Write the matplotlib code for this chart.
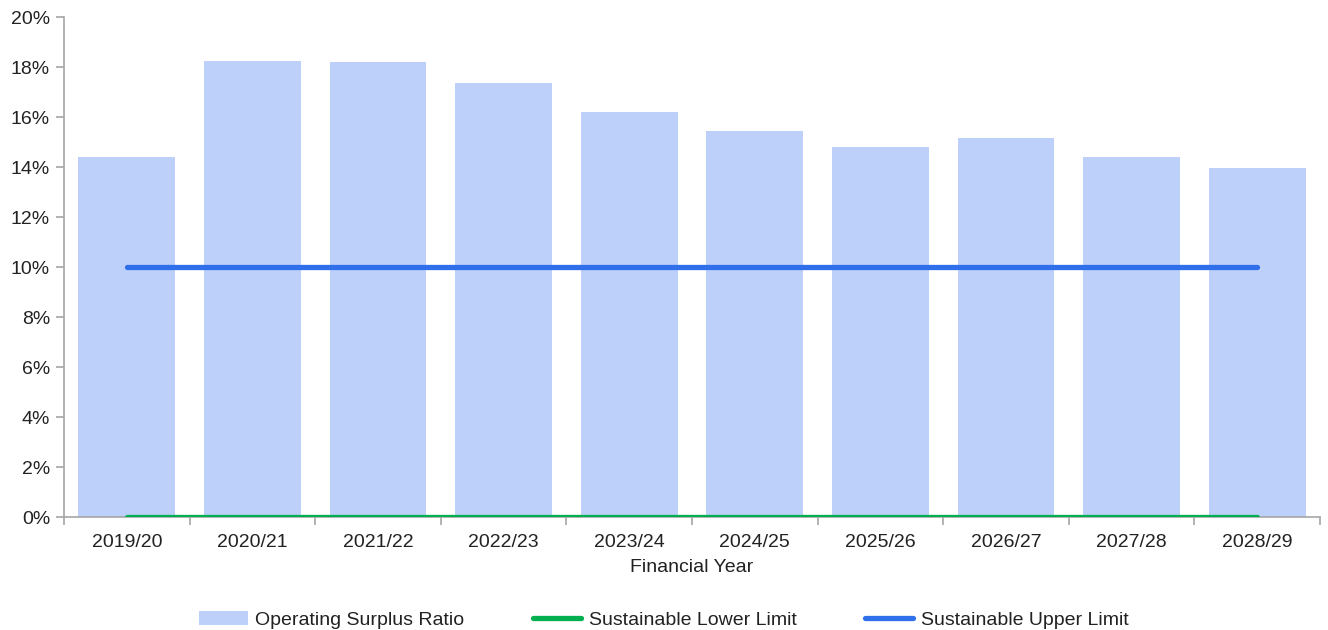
import numpy as np
from matplotlib import pyplot as plt
from matplotlib.ticker import PercentFormatter

plt.rcParams['font.family'] = ['Liberation Sans', 'DejaVu Sans']

years = ["2019/20", "2020/21", "2021/22", "2022/23", "2023/24",
         "2024/25", "2025/26", "2026/27", "2027/28", "2028/29"]
surplus_ratio = [14.4, 18.24, 18.2, 17.36, 16.2, 15.44, 14.8, 15.16, 14.4, 13.96]
lower_limit = [0, 0, 0, 0, 0, 0, 0, 0, 0, 0]
upper_limit = [10, 10, 10, 10, 10, 10, 10, 10, 10, 10]

fig = plt.figure(figsize=(13.28, 6.3), dpi=100)
ax = fig.add_axes([0.0482, 0.179, 0.9458, 0.794])

x = np.arange(len(years))
bars = ax.bar(x, surplus_ratio, width=0.77, color='#BDD0F9', label='Operating Surplus Ratio', zorder=1)
low, = ax.plot(x, lower_limit, color='#00B050', lw=3.8, label='Sustainable Lower Limit', zorder=3,
               solid_capstyle='round')
up, = ax.plot(x, upper_limit, color='#2F6FEB', lw=3.8, label='Sustainable Upper Limit', zorder=3,
              solid_capstyle='round')

ax.set_xlim(-0.5, len(years) - 0.5)
ax.set_ylim(0, 20)
ax.set_yticks(np.arange(0, 21, 2))
ax.yaxis.set_major_formatter(PercentFormatter(decimals=0))
ax.set_xticks(x)
ax.set_xticklabels(years)
ax.set_xticks(np.arange(-0.5, len(years), 1), minor=True)
ax.tick_params(axis='x', which='major', length=0, labelsize=14, pad=12, labelcolor='#222222')
ax.tick_params(axis='x', which='minor', length=6, color='#A6A6A6', width=1.2)
ax.tick_params(axis='y', length=6, color='#A6A6A6', width=1.2, labelsize=14, pad=4, labelcolor='#222222')

for s in ['top', 'right']:
    ax.spines[s].set_visible(False)
for s in ['left', 'bottom']:
    ax.spines[s].set_color('#A6A6A6')
    ax.spines[s].set_linewidth(1.2)

ax.set_xlabel('Financial Year', fontsize=14, labelpad=6, color='#222222')

fig.legend(handles=[bars, low, up], loc='center', bbox_to_anchor=(0.5, 0.016), ncol=3,
           frameon=False, fontsize=14, handlelength=2.5, columnspacing=3.5, handletextpad=0.4,
           labelcolor='#222222')

fig.savefig('out.png', dpi=100)
